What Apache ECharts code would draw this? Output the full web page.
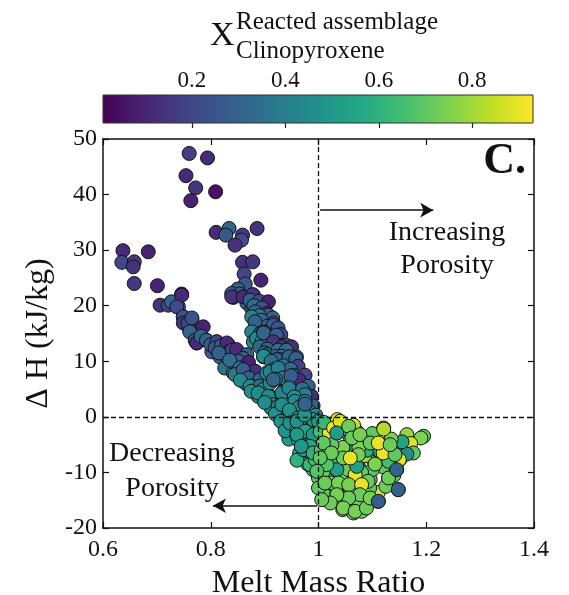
<!DOCTYPE html>
<html>
<head>
<meta charset="utf-8">
<script src="https://cdn.jsdelivr.net/npm/echarts@6/dist/echarts.min.js"></script>
<style>html,body{margin:0;padding:0;background:#fff;}#c{width:569px;height:595px;}</style>
</head>
<body>
<div id="c"></div>
<script>
// ---- data: [melt mass ratio, delta H (kJ/kg), X cpx reacted] ----
const topCluster = [
  [0.760,47.4,0.18],[0.794,46.6,0.12],[0.754,43.4,0.12],[0.772,41.2,0.15],[0.809,40.5,0.06],[0.763,38.9,0.10]
];
const leftCluster = [
  [0.637,29.9,0.12],[0.684,29.7,0.10],[0.635,27.8,0.20],[0.658,27.9,0.16],[0.656,27.0,0.14],[0.658,24.0,0.16],[0.701,23.6,0.10]
];
const rightBranchTop = [
  [0.810,33.2,0.12],[0.834,33.9,0.30],[0.828,32.7,0.26],[0.859,32.7,0.16],[0.857,31.8,0.22],[0.845,30.9,0.14],
  [0.886,33.9,0.14],[0.859,27.8,0.14],[0.878,27.9,0.16],[0.862,25.7,0.20],[0.893,24.6,0.10],[0.864,23.9,0.26],
  [0.850,23.0,0.30],[0.839,22.2,0.28],[0.854,22.1,0.30],[0.879,21.9,0.22],[0.842,21.5,0.20],[0.867,20.5,0.30],[0.904,20.6,0.08],
  [0.839,21.6,0.14],[0.860,21.6,0.12],[0.878,22.0,0.14],[0.876,19.5,0.22],[0.888,18.6,0.30],[0.898,20.4,0.40]
];
const rightBranch = [
  [0.873,21.0,0.30],[0.890,20.8,0.22],[0.907,20.7,0.10],[0.880,20.0,0.35],[0.895,19.6,0.25],
  [0.882,18.9,0.30],[0.904,18.6,0.12],[0.907,18.3,0.28],[0.890,18.2,0.40],[0.876,18.0,0.42],[0.915,17.8,0.30],
  [0.894,17.4,0.30],[0.916,16.9,0.20],[0.884,16.5,0.44],[0.905,16.3,0.32],[0.916,16.5,0.28],[0.925,16.0,0.25],
  [0.882,17.1,0.30],[0.876,15.3,0.42],[0.893,15.1,0.30],[0.879,13.5,0.44],[0.894,12.7,0.30],[0.898,10.8,0.42],
  [0.898,15.3,0.30],[0.901,15.1,0.35],[0.885,14.1,0.44],[0.912,14.5,0.30],[0.916,13.8,0.25],[0.930,14.8,0.20],[0.895,13.6,0.46],
  [0.898,15.1,0.30],[0.922,14.7,0.28],[0.932,12.9,0.12],[0.940,12.9,0.28],
  [0.891,12.6,0.32],[0.916,13.5,0.15],[0.932,12.6,0.14],[0.950,12.6,0.14],[0.905,12.2,0.30],[0.925,12.0,0.35],[0.940,12.0,0.32],[0.900,11.5,0.38],
  [0.904,11.2,0.44],[0.920,10.9,0.30],[0.932,10.9,0.32],[0.959,10.8,0.28],
  [0.901,10.9,0.42],[0.929,10.3,0.30],[0.922,10.3,0.30],[0.898,10.9,0.46],[0.945,10.8,0.30],[0.912,10.0,0.35],[0.958,10.5,0.30],
  [0.916,8.5,0.30],[0.904,7.9,0.45],[0.910,8.1,0.40],[0.962,9.1,0.18],[0.935,9.2,0.35],[0.948,8.6,0.32],[0.925,8.8,0.40],
  [0.944,6.7,0.45],[0.965,6.9,0.32],[0.934,7.0,0.38],[0.955,7.4,0.30],[0.975,7.5,0.20],[0.920,6.8,0.45],[0.950,6.0,0.44],
  [0.916,6.7,0.30],[0.935,4.6,0.14],[0.963,6.7,0.12],[0.949,7.4,0.28],[0.978,4.3,0.22],[0.960,4.3,0.28],[0.975,2.5,0.28],
  [0.981,5.5,0.30],[0.987,3.7,0.14],[0.932,4.3,0.42],[0.960,4.6,0.45],[0.970,5.0,0.35],[0.945,5.2,0.42],[0.975,4.0,0.40],[0.955,3.6,0.47],
  [0.956,2.8,0.45],[0.990,2.0,0.30],[0.947,0.9,0.46],[0.970,0.6,0.45],[0.965,1.8,0.44],[0.985,0.8,0.40],[0.995,0.3,0.45],[0.975,2.8,0.40]
];
const leftBranch = [
  [0.706,20.1,0.15],[0.721,20.1,0.20],[0.740,19.8,0.30],[0.746,22.1,0.12],[0.727,20.7,0.30],[0.749,18.0,0.15],
  [0.746,21.9,0.12],[0.737,19.8,0.22],[0.749,18.0,0.25],[0.765,17.4,0.28],[0.749,16.9,0.15],[0.761,15.6,0.28],
  [0.758,16.9,0.20],[0.765,17.8,0.25],[0.786,16.2,0.10],[0.761,15.3,0.30],[0.771,13.8,0.24],[0.774,13.3,0.20],
  [0.774,13.3,0.12],[0.792,13.8,0.28],[0.811,13.5,0.12],[0.830,11.7,0.12],[0.833,12.9,0.14],[0.802,11.7,0.28],
  [0.782,14.5,0.30],[0.792,13.8,0.30],[0.800,13.0,0.28],[0.811,13.5,0.20],[0.808,12.4,0.25],[0.820,12.8,0.30],
  [0.817,10.8,0.30],[0.848,10.8,0.28],[0.857,10.0,0.14],[0.836,9.7,0.30],[0.826,8.8,0.36],[0.842,7.9,0.42],
  [0.830,13.3,0.12],[0.833,11.7,0.10],[0.825,11.2,0.30],[0.815,11.5,0.30],[0.848,11.4,0.24],[0.840,12.0,0.20],
  [0.848,12.1,0.12],[0.867,11.2,0.28],[0.858,9.1,0.30],[0.849,8.6,0.30],[0.882,8.2,0.12],[0.895,7.3,0.30],
  [0.860,10.5,0.30],[0.842,9.9,0.34],[0.852,10.0,0.28],[0.835,10.2,0.34],[0.870,9.8,0.10],[0.860,8.5,0.38],
  [0.882,8.2,0.14],[0.854,8.8,0.38],[0.845,7.6,0.40],[0.868,7.2,0.32],[0.879,6.3,0.42],[0.865,6.0,0.44],
  [0.860,8.5,0.28],[0.870,7.0,0.30],[0.855,6.6,0.44],[0.891,6.7,0.28],[0.876,5.5,0.44],[0.873,5.5,0.46],
  [0.891,5.5,0.35],[0.897,4.9,0.44],[0.888,3.7,0.42],[0.875,4.6,0.45],[0.905,4.2,0.38],[0.910,3.7,0.44],
  [0.888,4.3,0.45],[0.907,3.7,0.46],[0.929,2.2,0.46],[0.953,2.2,0.47],[0.944,0.9,0.46],[0.963,0.4,0.47],
  [0.910,6.1,0.44],[0.984,0.9,0.40],
  [0.916,2.2,0.46],[0.912,1.6,0.44],[0.925,1.9,0.42],[0.900,2.6,0.45],[0.935,0.8,0.45],[0.920,0.5,0.47],
  [0.940,-0.3,0.45],[0.930,-0.8,0.48]
];
const junction = [
  [0.932,2.2,0.45],[0.946,1.2,0.48],[0.972,-0.5,0.50],[0.960,-2.4,0.48],[0.984,-4.8,0.50],[0.970,-5.4,0.50],
  [0.950,-1.5,0.48],[0.955,-3.5,0.52],[0.965,-6.5,0.55],[0.975,-7.5,0.60],[0.985,-2.0,0.50],[0.995,-1.0,0.55],
  [0.980,-8.5,0.58],[0.990,-9.5,0.62],[0.960,-7.8,0.60],[0.945,-4.0,0.50],[0.938,-2.5,0.48],
  [0.962,-0.2,0.48],[0.984,-0.5,0.50],[0.962,-4.1,0.50],[0.972,-5.9,0.52],[0.990,-2.9,0.50],[0.984,-8.6,0.62],
  [0.947,-1.1,0.47],[0.969,-1.4,0.48],[0.960,-2.6,0.50],[0.984,-2.3,0.58],[0.990,-0.5,0.50],
  [0.960,-0.8,0.48],[0.974,0.3,0.48],[1.000,-0.8,0.50],[0.975,-2.6,0.56],[0.960,-3.2,0.50],[0.990,-3.2,0.50],
  [0.984,-5.3,0.56],[0.968,-5.3,0.50],
  [0.975,2.3,0.30]
];
const negative = [
  [1.003,-2.7,0.65],[1.028,-1.4,0.90],[1.043,-1.1,0.88],[1.059,-2.7,0.75],[1.070,-2.5,0.78],[1.034,-2.9,0.72],
  [1.020,-2.9,0.90],[1.059,-4.1,0.70],[1.056,-5.9,0.50],[1.094,-4.8,0.72],[1.121,-2.0,0.85],[1.111,-5.9,0.90],
  [1.120,-6.2,0.60],[1.148,-5.9,0.50],[1.151,-7.7,0.90],[1.145,-9.5,0.30],[1.148,-13.1,0.30],[1.111,-15.2,0.28],
  [1.111,-13.6,0.88],[1.130,-11.0,0.62],[1.096,-11.3,0.70],[1.074,-8.9,0.50],[1.068,-10.4,0.90],[1.083,-12.2,0.75],
  [1.040,-7.7,0.68],[1.012,-9.2,0.70],[1.034,-9.8,0.50],[1.015,-14.3,0.70],[1.052,-15.2,0.52],[1.071,-16.7,0.72],
  [1.086,-16.4,0.75],[1.059,-13.1,0.70],[1.034,-13.8,0.68],[1.000,-11.0,0.70],[0.994,-7.7,0.65],[0.990,-6.5,0.60],
  [1.005,-6.0,0.68],[1.099,-7.4,0.72],[1.086,-7.0,0.80],[1.120,-9.0,0.70],[1.164,-3.2,0.78],[1.195,-3.5,0.72],
  [1.190,-3.8,0.75],[1.171,-4.8,0.88],[1.176,-6.5,0.70],[1.164,-6.7,0.45],[1.150,-7.7,0.90],[1.112,-6.2,0.72],
  [1.120,-5.0,0.70],[1.130,-8.0,0.65],[1.100,-9.5,0.68],[1.080,-10.0,0.70],[1.060,-8.0,0.72],[1.045,-5.5,0.75],
  [1.025,-5.0,0.70],[1.015,-7.0,0.72],[1.050,-11.0,0.75],[1.070,-13.5,0.70],[1.090,-14.0,0.72],[1.020,-11.5,0.72],
  [1.045,-16.7,0.70],[1.065,-17.3,0.72],[1.080,-17.0,0.74],[1.060,-15.0,0.70],[1.024,-11.9,0.72],[1.009,-9.8,0.72],
  [1.000,-12.8,0.70],[1.080,-4.0,0.72],[1.100,-3.0,0.70],[1.065,-1.5,0.86],[1.010,-1.0,0.62],[1.035,-0.5,0.88],
  [1.090,-6.0,0.60],[1.105,-8.5,0.75],[1.125,-12.5,0.72],[1.095,-12.8,0.70],[1.140,-10.5,0.70],[1.155,-4.5,0.55],
  [1.135,-4.0,0.75],[1.075,-5.5,0.75],[1.030,-7.5,0.62],[1.055,-9.5,0.72],[1.040,-14.5,0.72],[1.075,-15.5,0.74],
  [1.009,-4.7,0.70],[1.028,-2.0,0.90],[1.040,-0.8,0.88],[1.034,-2.9,0.52],[1.056,-1.7,0.72],[1.062,-3.8,0.72],
  [1.077,-3.2,0.74],[1.096,-4.7,0.72],[1.121,-2.2,0.82],[1.114,-6.2,0.52],[1.120,-6.5,0.90],[1.142,-6.8,0.70],
  [1.092,-11.6,0.72],[1.130,-11.0,0.72],[1.068,-10.4,0.90],[1.071,-8.9,0.52],[1.034,-9.5,0.52],[1.015,-8.6,0.68],
  [1.046,-7.4,0.72],[1.024,-6.5,0.72],[1.003,-7.4,0.70],[0.997,-9.8,0.68],[1.012,-11.9,0.72],[1.037,-11.9,0.74],
  [1.056,-12.2,0.74],[1.080,-12.2,0.90],[1.077,-14.0,0.72],[1.056,-14.6,0.72],[1.034,-14.0,0.74],[1.022,-15.5,0.72],
  [1.046,-16.4,0.74],[1.068,-17.0,0.74],[1.089,-16.4,0.72],[1.096,-14.6,0.74],[1.111,-4.7,0.90],[1.133,-5.0,0.72],
  [1.006,-14.9,0.72],[1.074,-6.8,0.74],[1.059,-7.4,0.90],
  [1.111,-15.2,0.28],[1.148,-13.1,0.30],[1.145,-9.5,0.30]
];
const xTicks = [0.6, 0.8, 1, 1.2, 1.4];
const cbarRange = [0.01, 0.93];
const cbarTicks = [0.2, 0.4, 0.6, 0.8];
const viridis = ['#440154','#482475','#414487','#355f8d','#2a788e','#21918c','#22a884','#44bf70','#7ad151','#bddf26','#fde725'];

const allPoints = [].concat(topCluster, leftCluster, rightBranchTop, leftBranch, rightBranch, junction, negative);

const FONT = 'Liberation Serif';
const chart = echarts.init(document.getElementById('c'));
const axisCommon = {
  axisLine: { show: true, onZero: false, lineStyle: { color: '#111', width: 1.5 } },
  axisTick: { show: true, inside: true, length: 6, lineStyle: { color: '#111', width: 1.2 } },
  splitLine: { show: false }
};
const option = {
  animation: false,
  backgroundColor: '#fff',
  grid: [
    { left: 103, right: 35, top: 139, bottom: 67, show: false, containLabel: false, outerBoundsMode: 'none' },
    { left: 103, right: 36, top: 95, height: 28, show: false, containLabel: false, outerBoundsMode: 'none' }
  ],
  xAxis: [
    Object.assign({}, axisCommon, {
      gridIndex: 0, type: 'value', min: 0.6, max: 1.4, interval: 0.2, position: 'bottom',
      name: 'Melt Mass Ratio', nameLocation: 'middle', nameGap: 40,
      nameTextStyle: { fontFamily: FONT, fontSize: 32, color: '#111' },
      axisLabel: { fontFamily: FONT, fontSize: 24, color: '#111', margin: 10, customValues: xTicks },
      axisTick: Object.assign({}, axisCommon.axisTick, { customValues: xTicks })
    }),
    Object.assign({}, axisCommon, {
      gridIndex: 0, type: 'value', min: 0.6, max: 1.4, interval: 0.2, position: 'top',
      axisLabel: { show: false }
    }),
    {
      gridIndex: 1, type: 'value', min: cbarRange[0], max: cbarRange[1], position: 'top', z: 10,
      axisLine: { show: false },
      axisTick: { show: true, inside: true, length: 5, customValues: cbarTicks, lineStyle: { color: '#222', width: 1.2 } },
      axisLabel: { show: true, customValues: cbarTicks, fontFamily: FONT, fontSize: 23, color: '#111', margin: 3,
        formatter: v => v.toFixed(1) },
      splitLine: { show: false }
    }
  ],
  yAxis: [
    Object.assign({}, axisCommon, {
      gridIndex: 0, type: 'value', min: -20, max: 50, interval: 10, position: 'left',
      name: 'Δ H (kJ/kg)', nameLocation: 'middle', nameGap: 42, nameRotate: 90,
      nameTextStyle: { fontFamily: FONT, fontSize: 32, color: '#111' },
      axisLabel: { fontFamily: FONT, fontSize: 24, color: '#111', margin: 6 }
    }),
    Object.assign({}, axisCommon, {
      gridIndex: 0, type: 'value', min: -20, max: 50, interval: 10, position: 'right',
      axisLabel: { show: false }
    }),
    { gridIndex: 1, type: 'value', min: 0, max: 1, show: false }
  ],
  visualMap: {
    show: false, type: 'continuous', dimension: 2, seriesIndex: 0,
    min: cbarRange[0], max: cbarRange[1], inRange: { color: viridis }
  },
  series: [
    {
      type: 'scatter', xAxisIndex: 0, yAxisIndex: 0, z: 3,
      symbol: 'circle', symbolSize: 14,
      itemStyle: { borderColor: '#141414', borderWidth: 1, opacity: 1 },
      data: allPoints
    },
    {
      type: 'scatter', xAxisIndex: 0, yAxisIndex: 0, z: 1, data: [],
      markLine: {
        silent: true, symbol: 'none', animation: false,
        label: { show: false },
        lineStyle: { type: [5, 3], color: '#111', width: 1.3 },
        data: [ { xAxis: 1 }, { yAxis: 0 } ]
      }
    },
    {
      type: 'scatter', xAxisIndex: 0, yAxisIndex: 0, z: 4, data: [],
      markLine: {
        silent: true, symbol: ['none', 'arrow'], symbolSize: [11, 13], animation: false,
        label: { show: false },
        lineStyle: { type: 'solid', color: '#111', width: 1.5 },
        data: [
          [ { coord: [1.003, 37.2] }, { coord: [1.213, 37.2] } ],
          [ { coord: [0.997, -16.0] }, { coord: [0.804, -16.0] } ]
        ]
      }
    },
    {
      type: 'custom', xAxisIndex: 2, yAxisIndex: 2, z: 2, silent: true,
      data: [[cbarRange[0], cbarRange[1]]],
      renderItem: function (params, api) {
        const p0 = api.coord([api.value(0), 1]);
        const p1 = api.coord([api.value(1), 0]);
        return {
          type: 'rect',
          shape: { x: p0[0], y: p0[1], width: p1[0] - p0[0], height: p1[1] - p0[1] },
          style: {
            fill: new echarts.graphic.LinearGradient(0, 0, 1, 0,
              viridis.map((c, i) => ({ offset: i / (viridis.length - 1), color: c }))),
            stroke: '#333', lineWidth: 1
          }
        };
      }
    }
  ],
  graphic: [
    { type: 'text', left: 210, top: 19, style: { text: 'X', font: '34px "Liberation Serif"', fill: '#111' } },
    { type: 'text', left: 236, top: 10, style: { text: 'Reacted assemblage', font: '25px "Liberation Serif"', fill: '#111' } },
    { type: 'text', left: 236, top: 39, style: { text: 'Clinopyroxene', font: '25px "Liberation Serif"', fill: '#111' } },
    { type: 'text', right: 43, top: 140, style: { text: 'C.', font: 'bold 44px "Liberation Serif"', fill: '#111' } },
    { type: 'text', x: 447, y: 233, style: { text: 'Increasing', font: '28px "Liberation Serif"', fill: '#111', align: 'center', verticalAlign: 'middle' } },
    { type: 'text', x: 447, y: 266, style: { text: 'Porosity', font: '28px "Liberation Serif"', fill: '#111', align: 'center', verticalAlign: 'middle' } },
    { type: 'text', x: 172, y: 454, style: { text: 'Decreasing', font: '28px "Liberation Serif"', fill: '#111', align: 'center', verticalAlign: 'middle' } },
    { type: 'text', x: 172, y: 489, style: { text: 'Porosity', font: '28px "Liberation Serif"', fill: '#111', align: 'center', verticalAlign: 'middle' } }
  ]
};
chart.setOption(option);
</script>
</body>
</html>
